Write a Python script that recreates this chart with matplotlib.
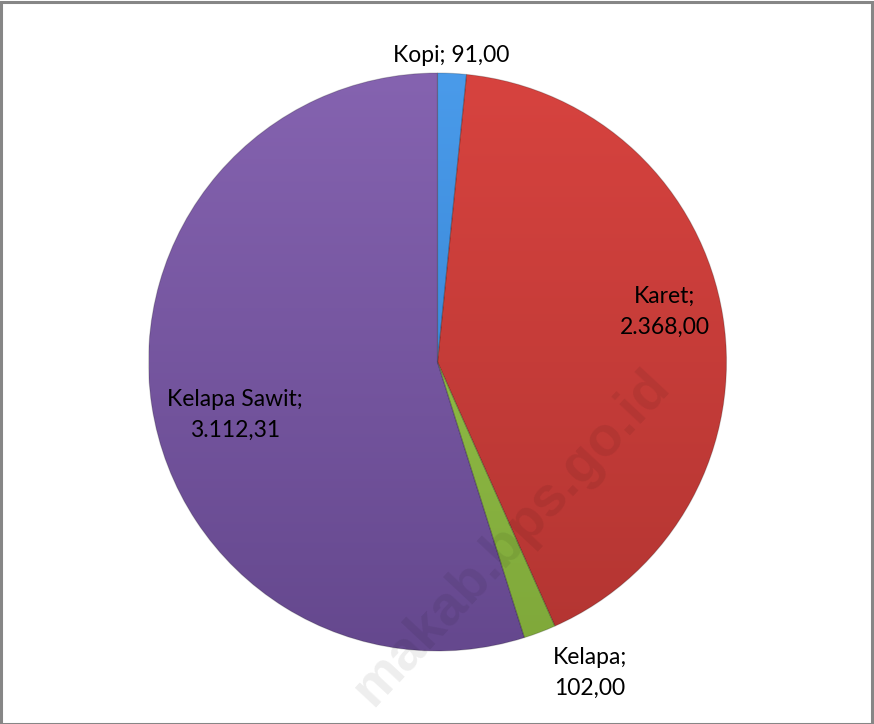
import numpy as np
import matplotlib
matplotlib.use("Agg")
import matplotlib.pyplot as plt
from matplotlib.patches import Rectangle
import matplotlib.colors as mcolors

categories = ["Kopi", "Karet", "Kelapa", "Kelapa Sawit"]
values = [91.00, 2368.00, 102.00, 3112.31]
value_labels = ["91,00", "2.368,00", "102,00", "3.112,31"]
colors_top = ["#4A9BEA", "#D7433F", "#9CC94E", "#8563B0"]
colors_bot = ["#2F7ACB", "#B33532", "#7FA83A", "#65488E"]

W, H = 874, 724
fig = plt.figure(figsize=(W / 100, H / 100), dpi=100)
ax = fig.add_axes([0, 0, 1, 1])

cx, cy, R = 437.5, 362.0, 289.0  # pixel center (from top) and radius
wedges, _ = ax.pie(values, startangle=90, counterclock=False, radius=1,
                   colors=colors_top,
                   wedgeprops=dict(linewidth=0.8, edgecolor="#00000030"))
ax.axis("off")

# vertical gradient fill for each wedge
grad = np.linspace(0, 1, 256).reshape(-1, 1)
for w, ct, cb in zip(wedges, colors_top, colors_bot):
    cmap = mcolors.LinearSegmentedColormap.from_list("g", [ct, cb])
    im = ax.imshow(grad, cmap=cmap, extent=(-1, 1, -1, 1), origin="upper",
                   aspect="auto", zorder=w.get_zorder() + 0.1)
    im.set_clip_path(w)
    w.set_zorder(w.get_zorder() + 0.2)
    w.set_facecolor("none")
ax.set_xlim(-cx / R, (W - cx) / R)
ax.set_ylim(-(H - cy) / R, cy / R)
ax.set_aspect("equal", adjustable="box")

def px(x, y):
    return ((x - cx) / R, (cy - y) / R)

label_pos = [(451, 56), (665, 312), (590, 673), (235, 415)]
for cat, vl, (x, y) in zip(categories, value_labels, label_pos):
    if cat == "Kopi":
        s = f"{cat}; {vl}"
    else:
        s = f"{cat};\n{vl}"
    ax.text(*px(x, y), s, ha="center", va="center", fontsize=16.5,
            family=["Lato", "DejaVu Sans"], color="#000000",
            linespacing=1.55, zorder=10)

# watermark
ax.text(*px(512, 538), "makab.bps.go.id", rotation=47, ha="center",
        va="center", fontsize=40, fontweight="bold",
        family=["Liberation Sans", "DejaVu Sans"], color="black",
        alpha=0.07, zorder=11)

fig.patches.append(Rectangle((0.5 / W, 0.5 / H), 1 - 2.5 / W, 1 - 2.5 / H,
                             transform=fig.transFigure, fill=False,
                             edgecolor="#868686", linewidth=2.2))
fig.savefig("out.png", dpi=100)
